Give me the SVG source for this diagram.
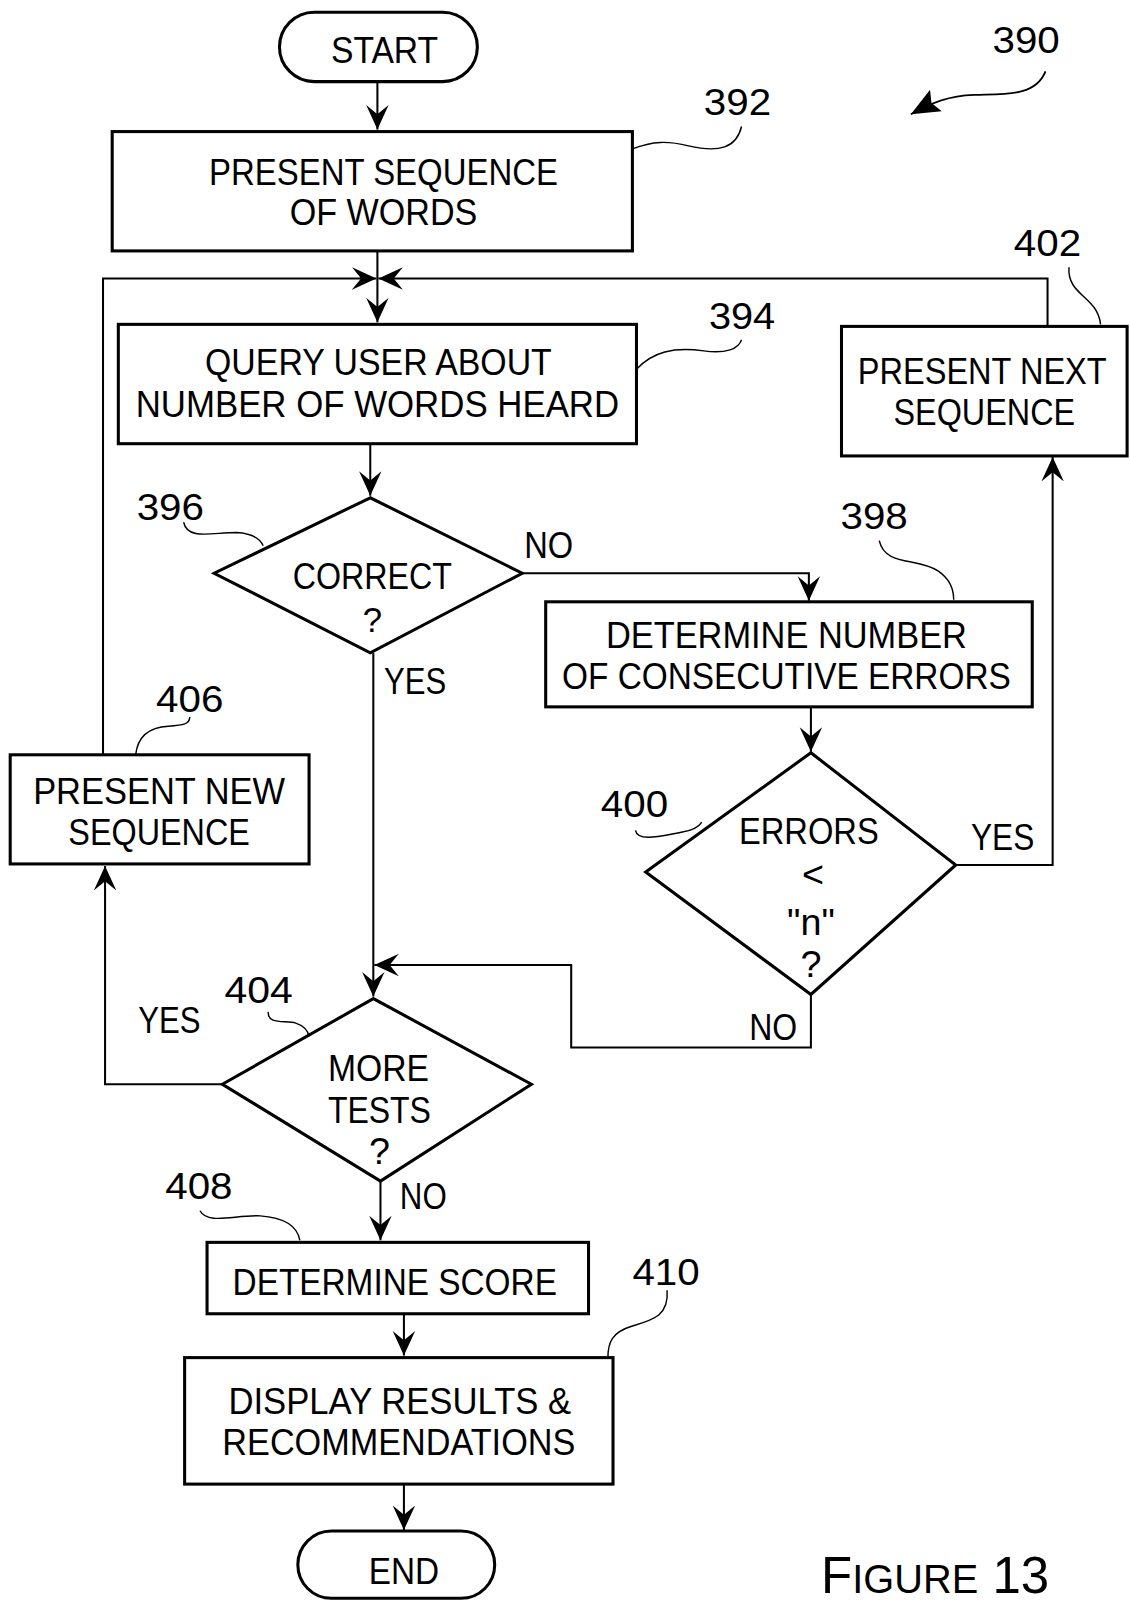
<svg xmlns="http://www.w3.org/2000/svg" width="1130" height="1601" viewBox="0 0 1130 1601">
<style>
.bg{fill:#fff}
.box{fill:none;stroke:#000;stroke-width:3}
.con{fill:none;stroke:#000;stroke-width:2}
.lead{fill:none;stroke:#000;stroke-width:1.4}
text{font-family:"Liberation Sans","DejaVu Sans",sans-serif;font-size:37px;fill:#000;text-anchor:middle}
.num{text-anchor:start}
</style>
<defs>
<marker id="arr" markerUnits="userSpaceOnUse" markerWidth="26" markerHeight="26" viewBox="0 0 26 26" refX="24" refY="13" orient="auto">
<path d="M0,2 L24,13 L0,24 L9,13 Z" fill="#000"/>
</marker>
<marker id="arrF" markerUnits="userSpaceOnUse" markerWidth="30" markerHeight="30" viewBox="0 0 30 30" refX="28" refY="15" orient="auto">
<path d="M0,3 L28,15 L0,27 L5,15 Z" fill="#000"/>
</marker>
</defs>
<rect class="bg" x="0" y="0" width="1130" height="1601"/>
<g transform="scale(1.02)">
<g id="connectors">
<path class="con" d="M370,80 L370,127" marker-end="url(#arr)"/>
<path class="con" d="M370,246 L370,316" marker-end="url(#arr)"/>
<path class="con" d="M101,740 L101,273 L369,273" marker-end="url(#arr)"/>
<path class="con" d="M1027,320 L1027,273 L371,273" marker-end="url(#arr)"/>
<path class="con" d="M363,435 L363,486" marker-end="url(#arr)"/>
<path class="con" d="M512,562 L793,562 L793,589" marker-end="url(#arr)"/>
<path class="con" d="M366,640 L366,977" marker-end="url(#arr)"/>
<path class="con" d="M795,693 L795,737" marker-end="url(#arr)"/>
<path class="con" d="M937,848 L1032,848 L1032,448" marker-end="url(#arr)"/>
<path class="con" d="M795,975 L795,1027 L560,1027 L560,946 L367,946" marker-end="url(#arr)"/>
<path class="con" d="M218,1063 L103,1063 L103,849" marker-end="url(#arr)"/>
<path class="con" d="M373,1158 L373,1216" marker-end="url(#arr)"/>
<path class="con" d="M396,1288 L396,1329" marker-end="url(#arr)"/>
<path class="con" d="M396,1455 L396,1500" marker-end="url(#arr)"/>
</g>
<g id="n390">
<text class="num" x="973" y="52" textLength="66" lengthAdjust="spacingAndGlyphs">390</text>
<path class="lead" d="M1025,70 C1015,95 985,92 955,93 C930,94 915,100 893,112" marker-end="url(#arrF)" style="stroke-width:1.8"/>
</g>
<g id="start">
<rect class="box" x="274" y="12" width="194" height="68" rx="34"/>
<text x="377" y="62" textLength="105" lengthAdjust="spacingAndGlyphs">START</text>
</g>
<g id="n392">
<rect class="box" x="110" y="129" width="510" height="117"/>
<text x="376" y="181" textLength="342" lengthAdjust="spacingAndGlyphs">PRESENT SEQUENCE</text>
<text x="376" y="221" textLength="184" lengthAdjust="spacingAndGlyphs">OF WORDS</text>
<text class="num" x="690" y="113" textLength="66" lengthAdjust="spacingAndGlyphs">392</text>
<path class="lead" d="M620,146 C640,138 655,138 675,143 C705,150 722,145 727,124"/>
</g>
<g id="n394">
<rect class="box" x="116" y="318" width="508" height="117"/>
<text x="371" y="368" textLength="340" lengthAdjust="spacingAndGlyphs">QUERY USER ABOUT</text>
<text x="370" y="409" textLength="474" lengthAdjust="spacingAndGlyphs">NUMBER OF WORDS HEARD</text>
<text class="num" x="695" y="323" textLength="65" lengthAdjust="spacingAndGlyphs">394</text>
<path class="lead" d="M624,362 C640,345 660,340 690,344 C712,347 724,342 727,333"/>
</g>
<g id="n396">
<polygon class="box" points="363,488 210,562 363,640 512,562"/>
<text x="365" y="577" textLength="156" lengthAdjust="spacingAndGlyphs">CORRECT</text>
<text x="365" y="620" style="font-size:34px">?</text>
<text class="num" x="134" y="510" textLength="66" lengthAdjust="spacingAndGlyphs">396</text>
<path class="lead" d="M180,512 C184,530 208,522 232,522 C248,523 255,528 258,535"/>
<text x="538" y="547" textLength="48" lengthAdjust="spacingAndGlyphs">NO</text>
<text x="407" y="680" textLength="61" lengthAdjust="spacingAndGlyphs">YES</text>
</g>
<g id="n398">
<rect class="box" x="535" y="590" width="477" height="103"/>
<text x="771" y="635" textLength="354" lengthAdjust="spacingAndGlyphs">DETERMINE NUMBER</text>
<text x="771" y="675" textLength="440" lengthAdjust="spacingAndGlyphs">OF CONSECUTIVE ERRORS</text>
<text class="num" x="824" y="519" textLength="66" lengthAdjust="spacingAndGlyphs">398</text>
<path class="lead" d="M862,530 C868,556 900,546 920,560 C933,569 935,580 935,588"/>
</g>
<g id="n400">
<polygon class="box" points="795,738 633,855 795,975 937,848"/>
<text x="793" y="827" textLength="137" lengthAdjust="spacingAndGlyphs">ERRORS</text>
<text x="797" y="870">&lt;</text>
<text x="795" y="917">"n"</text>
<text x="795" y="958">?</text>
<text class="num" x="589" y="801" textLength="66" lengthAdjust="spacingAndGlyphs">400</text>
<path class="lead" d="M623,814 C625,826 650,819 668,816 C680,814 685,811 688,806"/>
<text x="983" y="833" textLength="62" lengthAdjust="spacingAndGlyphs">YES</text>
<text x="758" y="1020" textLength="47" lengthAdjust="spacingAndGlyphs">NO</text>
</g>
<g id="n402">
<rect class="box" x="825" y="320" width="280" height="127"/>
<text x="963" y="376" textLength="244" lengthAdjust="spacingAndGlyphs">PRESENT NEXT</text>
<text x="965" y="417" textLength="178" lengthAdjust="spacingAndGlyphs">SEQUENCE</text>
<text class="num" x="994" y="251" textLength="66" lengthAdjust="spacingAndGlyphs">402</text>
<path class="lead" d="M1048,262 C1046,290 1076,290 1079,318"/>
</g>
<g id="n404">
<polygon class="box" points="366,979 218,1063 373,1158 521,1063"/>
<text x="371" y="1060" textLength="99" lengthAdjust="spacingAndGlyphs">MORE</text>
<text x="372" y="1101" textLength="101" lengthAdjust="spacingAndGlyphs">TESTS</text>
<text x="372" y="1141">?</text>
<text class="num" x="220" y="983" textLength="67" lengthAdjust="spacingAndGlyphs">404</text>
<path class="lead" d="M263,992 C262,1005 280,1000 290,1003 C299,1006 302,1011 303,1016"/>
<text x="166" y="1013" textLength="61" lengthAdjust="spacingAndGlyphs">YES</text>
<text x="415" y="1185" textLength="46" lengthAdjust="spacingAndGlyphs">NO</text>
</g>
<g id="n406">
<rect class="box" x="10" y="740" width="293" height="107"/>
<text x="156" y="788" textLength="247" lengthAdjust="spacingAndGlyphs">PRESENT NEW</text>
<text x="156" y="828" textLength="178" lengthAdjust="spacingAndGlyphs">SEQUENCE</text>
<text class="num" x="153" y="698" textLength="66" lengthAdjust="spacingAndGlyphs">406</text>
<path class="lead" d="M133,740 C135,722 146,713 165,712 C180,711 186,710 186,703"/>
</g>
<g id="n408">
<rect class="box" x="203" y="1218" width="374" height="70"/>
<text x="387" y="1270" textLength="318" lengthAdjust="spacingAndGlyphs">DETERMINE SCORE</text>
<text class="num" x="162" y="1175" textLength="66" lengthAdjust="spacingAndGlyphs">408</text>
<path class="lead" d="M196,1187 C204,1201 230,1191 255,1192 C284,1194 292,1205 294,1216"/>
</g>
<g id="n410">
<rect class="box" x="181" y="1331" width="420" height="124"/>
<text x="392" y="1386" textLength="336" lengthAdjust="spacingAndGlyphs">DISPLAY RESULTS &amp;</text>
<text x="391" y="1426" textLength="346" lengthAdjust="spacingAndGlyphs">RECOMMENDATIONS</text>
<text class="num" x="620" y="1260" textLength="66" lengthAdjust="spacingAndGlyphs">410</text>
<path class="lead" d="M654,1265 C656,1290 640,1294 620,1300 C600,1306 596,1316 596,1331"/>
</g>
<g id="end">
<rect class="box" x="292" y="1501" width="193" height="66" rx="33"/>
<text x="396" y="1553" textLength="69" lengthAdjust="spacingAndGlyphs">END</text>
</g>
<g id="caption">
<text class="num" x="805" y="1562"><tspan style="font-size:50px">F</tspan><tspan style="font-size:39px">IGURE</tspan><tspan dx="14" style="font-size:50px">13</tspan></text>
</g>
</g>
</svg>
